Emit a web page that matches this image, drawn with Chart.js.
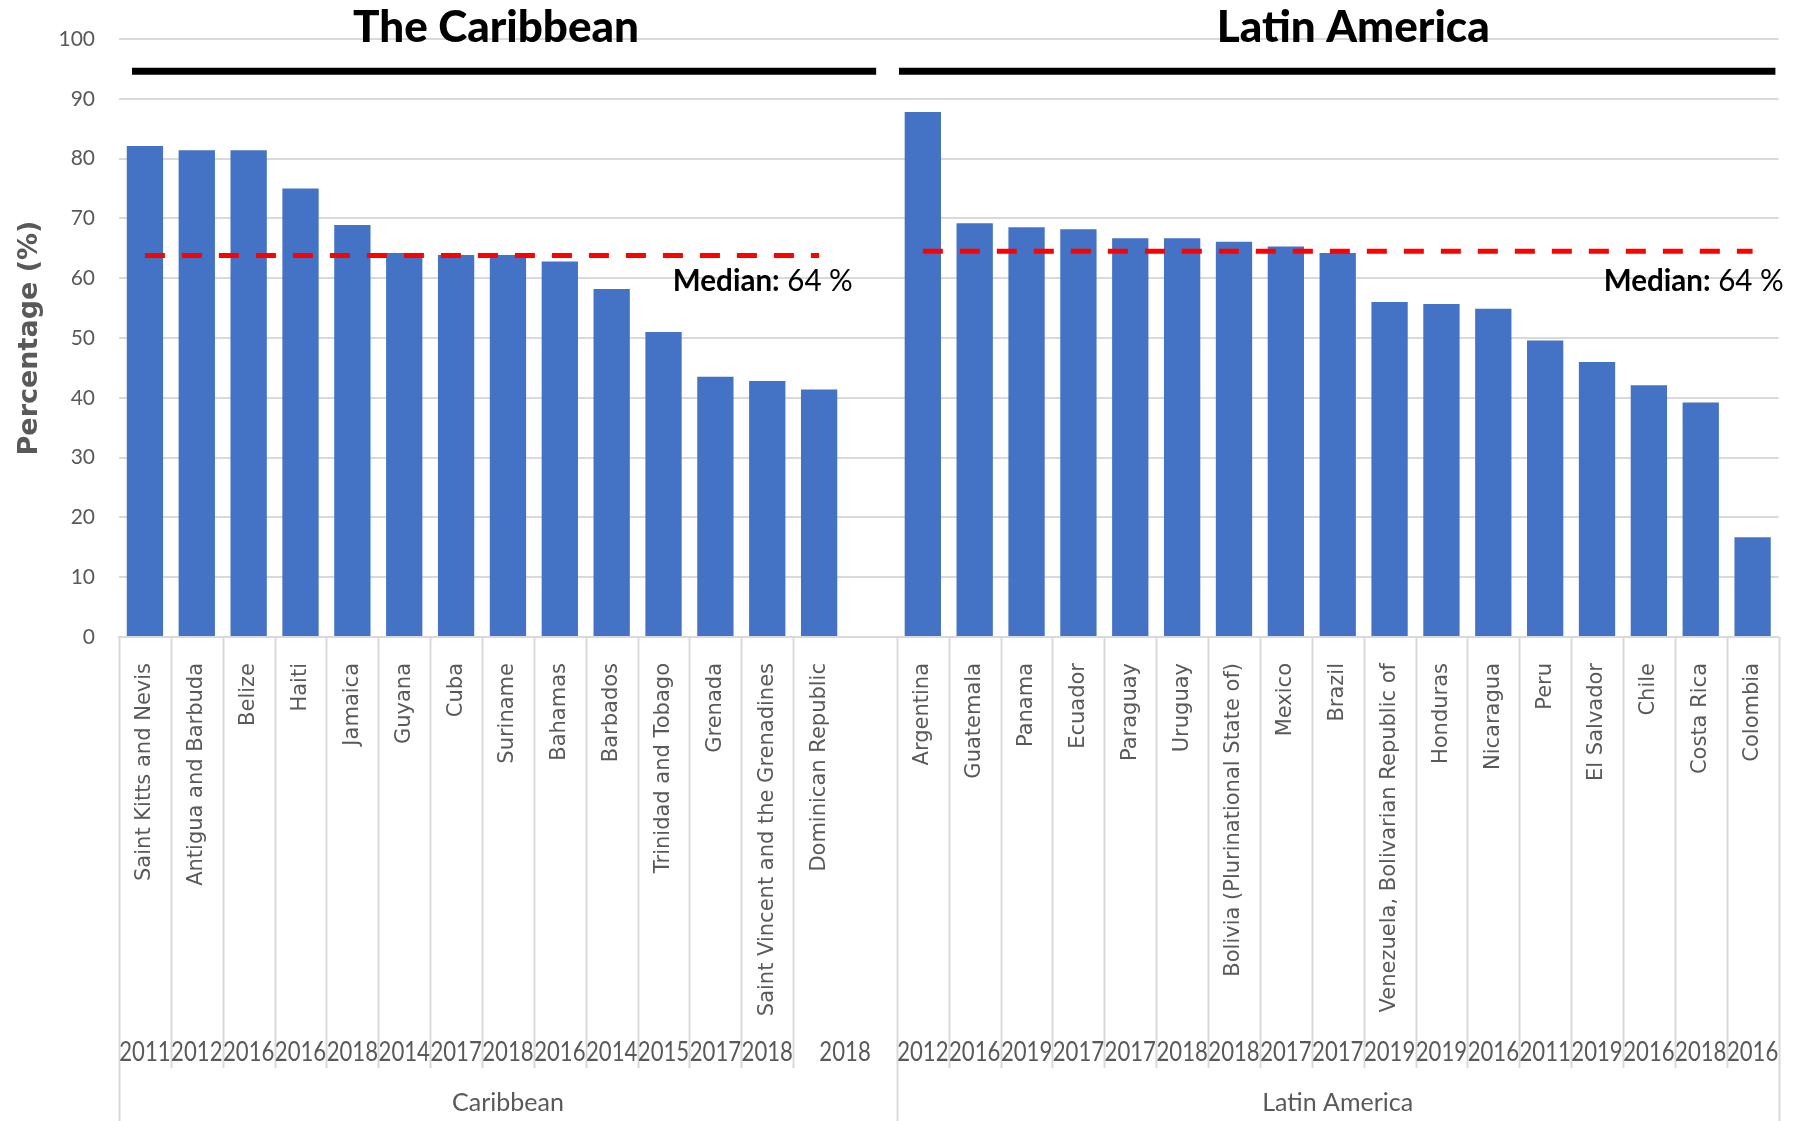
<!DOCTYPE html>
<html>
<head>
<meta charset="utf-8">
<script src="https://cdn.jsdelivr.net/npm/chart.js@4.4.1/dist/chart.umd.min.js"></script>
<style>
  body { margin: 0; background: #fff; }
  canvas { display: block; }
</style>
</head>
<body>
<canvas id="myChart" width="1796" height="1121"></canvas>
<script>
// Dados
const caribbeanCountries = ['Saint Kitts and Nevis', 'Antigua and Barbuda', 'Belize', 'Haiti', 'Jamaica', 'Guyana', 'Cuba',
    'Suriname', 'Bahamas', 'Barbados', 'Trinidad and Tobago', 'Grenada', 'Saint Vincent and the Grenadines', 'Dominican Republic'];
const caribbeanYears = ['2011', '2012', '2016', '2016', '2018', '2014', '2017', '2018', '2016', '2014', '2015', '2017', '2018', '2018'];
const caribbeanValues = [82.1, 81.4, 81.4, 75.0, 68.9, 64.2, 63.9, 63.9, 62.8, 58.2, 51.0, 43.5, 42.8, 41.4];

const latinCountries = ['Argentina', 'Guatemala', 'Panama', 'Ecuador', 'Paraguay', 'Uruguay', 'Bolivia (Plurinational State of)',
    'Mexico', 'Brazil', 'Venezuela, Bolivarian Republic of', 'Honduras', 'Nicaragua', 'Peru', 'El Salvador', 'Chile',
    'Costa Rica', 'Colombia'];
const latinYears = ['2012', '2016', '2019', '2017', '2017', '2018', '2018', '2017', '2017', '2019', '2019', '2016', '2011',
    '2019', '2016', '2018', '2016'];
const latinValues = [87.8, 69.2, 68.5, 68.2, 66.7, 66.7, 66.1, 65.3, 64.2, 56.0, 55.7, 54.9, 49.6, 46.0, 42.1, 39.2, 16.7];

const caribbeanMedian = 63.8;
const latinMedian = 64.5;
const medianText = ['Median:', ' 64 %'];

const groupNames = ['Caribbean', 'Latin America'];
const groupTitles = ['The Caribbean', 'Latin America'];
const yTickValues = [0, 10, 20, 30, 40, 50, 60, 70, 80, 90, 100];

// Monta as séries (uma categoria vazia separa os dois grupos)
const labels = [...caribbeanCountries, '', ...latinCountries];
const years = [...caribbeanYears, '', ...latinYears];
const values = [...caribbeanValues, null, ...latinValues];
const medianLine = [...caribbeanCountries.map(() => caribbeanMedian), null, ...latinCountries.map(() => latinMedian)];

const groups = [
    { name: groupNames[0], title: groupTitles[0], first: 0, last: caribbeanCountries.length },
    { name: groupNames[1], title: groupTitles[1], first: caribbeanCountries.length + 1, last: labels.length - 1 }
];

// Posições das anotações (em unidades de categoria / valor)
const decor = [
    { barFrom: -0.25, barTo: 14.1, titleAt: 6.77, titleWidth: 287, medianAt: 13.65 },
    { barFrom: 14.54, barTo: 31.44, titleAt: 23.3, titleWidth: 274, medianAt: 31.6 }
];
const GRAY = '#595959';
const GRID = '#d9d9d9';

const decorPlugin = {
    id: 'decor',
    afterDraw(chart) {
        const ctx = chart.ctx;
        const xs = chart.scales.x;
        const ys = chart.scales.y;
        const area = chart.chartArea;
        const slot = xs.getPixelForValue(1) - xs.getPixelForValue(0);
        const edge = i => xs.getPixelForValue(i) - slot / 2;

        ctx.save();
        // Linhas separadoras do eixo de categorias
        ctx.strokeStyle = GRID;
        ctx.lineWidth = 2;
        const groupEdges = [0, groups[1].first, labels.length];
        for (let b = 0; b <= labels.length; b++) {
            const isGroupEdge = groupEdges.includes(b);
            if (!isGroupEdge && (labels[b - 1] === '' || labels[b] === '')) continue;
            const px = Math.round(edge(b)) + 0.5;
            ctx.beginPath();
            ctx.moveTo(px, area.bottom);
            ctx.lineTo(px, isGroupEdge ? chart.height : area.bottom + 431);
            ctx.stroke();
        }

        // Anos (segundo nível)
        ctx.fillStyle = GRAY;
        ctx.font = '26px Lato';
        ctx.textAlign = 'center';
        ctx.textBaseline = 'middle';
        years.forEach((yr, i) => {
            if (!yr) return;
            let end = i;
            while (end + 1 < labels.length && labels[end + 1] === '') end++;
            const cx = (edge(i) + edge(end + 1)) / 2;
            ctx.fillText(yr, cx, area.bottom + 416, slot * 0.99);
        });

        // Nome dos grupos (terceiro nível)
        ctx.font = '25px Lato';
        groups.forEach(g => {
            const cx = (edge(g.first) + edge(g.last + 1)) / 2;
            ctx.fillText(g.name, cx, area.bottom + 466);
        });

        groups.forEach((g, k) => {
            const d = decor[k];
            // Barra preta do título
            ctx.strokeStyle = '#000';
            ctx.lineWidth = 7;
            const by = ys.getPixelForValue(94.6);
            ctx.beginPath();
            ctx.moveTo(xs.getPixelForValue(d.barFrom), by);
            ctx.lineTo(xs.getPixelForValue(d.barTo), by);
            ctx.stroke();

            // Título do grupo
            ctx.fillStyle = '#000';
            ctx.font = '900 44px Lato';
            ctx.textAlign = 'center';
            ctx.fillText(g.title, xs.getPixelForValue(d.titleAt), ys.getPixelForValue(101.9), d.titleWidth);

            // Texto da mediana
            const right = xs.getPixelForValue(d.medianAt);
            const ty = ys.getPixelForValue(59.4);
            ctx.font = 'bold 30px Lato';
            const w1 = ctx.measureText(medianText[0]).width;
            ctx.font = '30px Lato';
            const w2 = ctx.measureText(medianText[1]).width;
            const s = Math.min(1, 180 / (w1 + w2));
            ctx.save();
            ctx.translate(right - (w1 + w2) * s, ty);
            ctx.scale(s, 1);
            ctx.textAlign = 'left';
            ctx.font = 'bold 30px Lato';
            ctx.fillText(medianText[0], 0, 0);
            ctx.font = '30px Lato';
            ctx.fillText(medianText[1], w1, 0);
            ctx.restore();
        });
        ctx.restore();
    }
};

const ctx = document.getElementById('myChart').getContext('2d');
const myChart = new Chart(ctx, {
    type: 'bar',
    data: {
        labels: labels,
        datasets: [{
            type: 'line',
            data: medianLine,
            borderColor: '#ff0000',
            borderWidth: 5,
            borderDash: [20, 17],
            pointRadius: 0,
            spanGaps: false,
            order: 0
        }, {
            data: values,
            backgroundColor: '#4472c4',
            barPercentage: 0.7,
            categoryPercentage: 1,
            order: 1
        }]
    },
    options: {
        responsive: false,
        animation: false,
        devicePixelRatio: 1,
        layout: { padding: { top: 39, right: 13, left: 0, bottom: 0 } },
        plugins: {
            legend: { display: false },
            tooltip: { enabled: false }
        },
        scales: {
            x: {
                afterFit(scale) { scale.height = 484; },
                grid: { display: false },
                border: { color: GRID, width: 2 },
                ticks: {
                    autoSkip: false,
                    minRotation: 90,
                    maxRotation: 90,
                    padding: 18,
                    color: GRAY,
                    font: { family: 'DejaVu Sans', size: 21 }
                }
            },
            y: {
                min: 0,
                max: 100,
                afterFit(scale) { scale.width = 119; },
                afterBuildTicks(scale) { scale.ticks = yTickValues.map(v => ({ value: v })); },
                grid: { color: GRID, lineWidth: 2, drawTicks: false },
                border: { display: false },
                ticks: {
                    padding: 24,
                    color: GRAY,
                    font: { family: 'Lato', size: 21 }
                },
                title: {
                    display: true,
                    text: 'Percentage (%)',
                    color: GRAY,
                    padding: { top: 14, bottom: 0 },
                    font: { family: 'DejaVu Sans', size: 27, weight: 'bold' }
                }
            }
        }
    },
    plugins: [decorPlugin]
});
</script>
</body>
</html>
